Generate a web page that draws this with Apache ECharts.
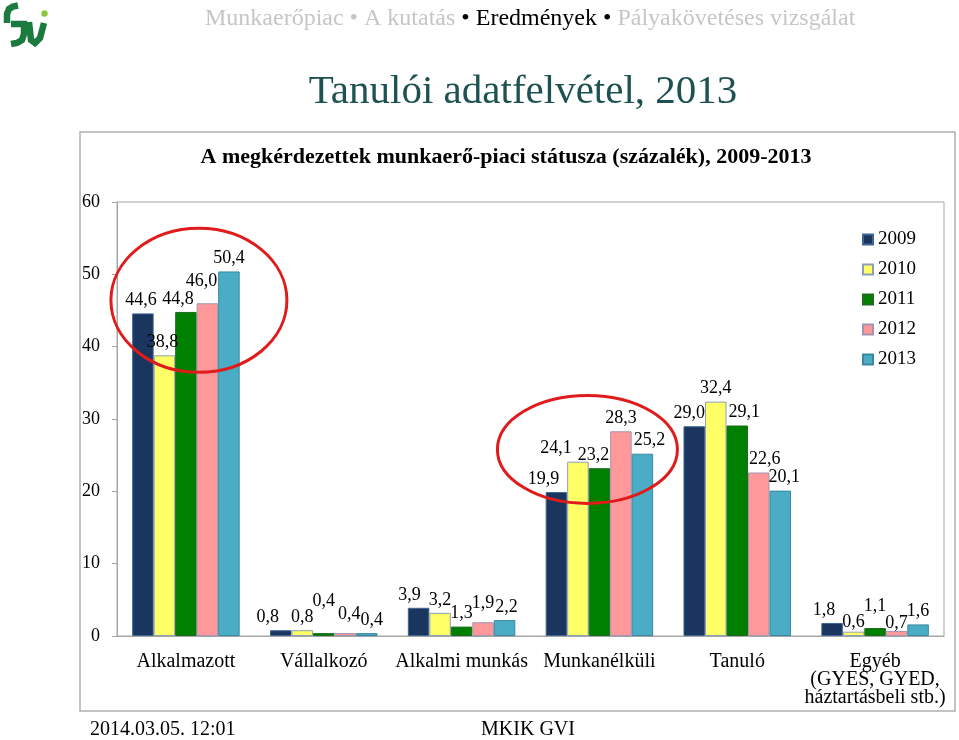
<!DOCTYPE html>
<html><head><meta charset="utf-8">
<script src="https://cdn.jsdelivr.net/npm/echarts@6/dist/echarts.min.js"></script>
<style>html,body{margin:0;padding:0;background:#fff}#c{width:959px;height:740px}</style>
</head><body><div id="c"></div>
<script>
// ---- data ----
const categories = ['Alkalmazott', 'Vállalkozó', 'Alkalmi munkás', 'Munkanélküli', 'Tanuló', 'Egyéb\n(GYES, GYED,\nháztartásbeli stb.)'];
const years = ['2009', '2010', '2011', '2012', '2013'];
const v2009 = [44.6, 0.8, 3.9, 19.9, 29.0, 1.8];
const v2010 = [38.8, 0.8, 3.2, 24.1, 32.4, 0.6];
const v2011 = [44.8, 0.4, 1.3, 23.2, 29.1, 1.1];
const v2012 = [46.0, 0.4, 1.9, 28.3, 22.6, 0.7];
const v2013 = [50.4, 0.4, 2.2, 25.2, 20.1, 1.6];
const yMin = 0, yMax = 60, yStep = 10;

// ---- style ----
const FONT = "'Liberation Serif', 'Times New Roman', serif";
const fills = ['#1B365E', '#FFFF66', '#008000', '#FF9999', '#4BACC6'];
const borders = ['#3F6593', '#8C9FB8', '#1F6B1F', '#A393B0', '#3A88A0'];
// label nudges [dx, dy] per series, per category (Excel hand-placed labels)
const nudges = [
  [[-2,0],[-13,0],[-9,0],[-13,0],[-5,0],[-8,0]],
  [[-2,0],[0,0],[0,0],[-22,0],[0,0],[0,4]],
  [[-8,0],[0,-19],[0,0],[-6,0],[7,0],[0,-9]],
  [[-6,-9],[4,-6],[0,-6],[0,0],[6,0],[0,5]],
  [[0,0],[5,0],[2,0],[7,0],[4,0],[0,0]]
];
const seriesValues = [v2009, v2010, v2011, v2012, v2013];
const fmt = v => v.toFixed(1).replace('.', ',');

const chart = echarts.init(document.getElementById('c'), null, {renderer: 'canvas'});

const series = years.map((y, si) => ({
  name: y,
  type: 'bar',
  barGap: '0%',
  barCategoryGap: '22%',
  itemStyle: {color: fills[si], borderColor: borders[si], borderWidth: 1},
  label: {
    show: true, position: 'top', distance: 4,
    fontFamily: FONT, fontSize: 18, color: '#000',
    formatter: p => fmt(p.value)
  },
  data: seriesValues[si].map((v, ci) => ({value: v, label: {offset: nudges[si][ci]}}))
}));

chart.setOption({
  backgroundColor: '#fff',
  animation: false,
  textStyle: {fontFamily: FONT},
  grid: {left: 117, top: 202, right: 15, bottom: 104, show: true, borderColor: '#a6a6a6', borderWidth: 1, backgroundColor: 'transparent'},
  legend: {
    orient: 'vertical', left: 857, top: 225,
    itemWidth: 10, itemHeight: 10, itemGap: 11,
    icon: 'rect',
    textStyle: {fontFamily: FONT, fontSize: 19, color: '#000'},
    data: years
  },
  xAxis: {
    type: 'category', data: categories,
    axisLine: {lineStyle: {color: '#a6a6a6'}},
    axisTick: {show: false},
    axisLabel: {fontFamily: FONT, fontSize: 20, color: '#000', margin: 17, lineHeight: 18, interval: 0}
  },
  yAxis: {
    type: 'value', min: yMin, max: yMax, interval: yStep,
    splitLine: {show: false},
    axisLine: {show: true, lineStyle: {color: '#a6a6a6'}},
    axisTick: {show: true, length: 5, lineStyle: {color: '#a6a6a6'}},
    axisLabel: {fontFamily: FONT, fontSize: 18, color: '#000', margin: 17}
  },
  series: series
});

// annotations: red ellipses anchored to data coordinates
function ellipseAt(cat, val, dx, rx, ry) {
  const p = chart.convertToPixel({gridIndex: 0}, [cat, val]);
  return {
    type: 'ellipse', silent: true, z: 100,
    shape: {cx: p[0] + dx, cy: p[1], rx: rx, ry: ry},
    style: {fill: null, stroke: '#E01B1B', lineWidth: 3}
  };
}

const G = '#1B7A3E';
const graphics = [
  // outer chart frame
  {type: 'rect', z: -1, shape: {x: 80, y: 132, width: 875, height: 579}, style: {fill: null, stroke: '#b0b0b0', lineWidth: 1.5}},
  // logo
  {type: 'polyline', shape: {points: [[7,23],[7,14],[9,9],[13,6.5],[18,5.5]]}, style: {fill: null, stroke: G, lineWidth: 6.5}},
  {type: 'polyline', shape: {points: [[11,24],[24,24],[24,34],[22,40],[17,43],[11,44]]}, style: {fill: null, stroke: G, lineWidth: 6.5}},
  {type: 'polyline', shape: {points: [[29,22],[31,40],[35,43],[40,38],[44,23]]}, style: {fill: null, stroke: G, lineWidth: 6.5}},
  {type: 'circle', shape: {cx: 44.5, cy: 13.5, r: 3.2}, style: {fill: '#8DC63F'}},
  // header navigation
  {type: 'text', left: 205, top: 7, style: {
    text: '{g|Munkaerőpiac • A kutatás }{b|• Eredmények •}{g| Pályakövetéses vizsgálat}',
    rich: {
      g: {fontFamily: FONT, fontSize: 24, fill: '#C6C6C6'},
      b: {fontFamily: FONT, fontSize: 24, fill: '#000'}
    }
  }},
  // title
  {type: 'text', x: 523, y: 92, style: {text: 'Tanulói adatfelvétel, 2013', fontFamily: FONT, fontSize: 41, fill: '#1E5252', align: 'center', verticalAlign: 'middle'}},
  // subtitle
  {type: 'text', x: 506, y: 158, scaleX: 1.1, style: {text: 'A megkérdezettek munkaerő-piaci státusza (százalék), 2009-2013', fontFamily: FONT, fontSize: 20, fontWeight: 'bold', fill: '#000', align: 'center', verticalAlign: 'middle'}},
  // footer
  {type: 'text', x: 90, y: 730, style: {text: '2014.03.05. 12:01', fontFamily: FONT, fontSize: 20, fill: '#000', align: 'left', verticalAlign: 'middle'}},
  {type: 'text', x: 528, y: 730, style: {text: 'MKIK GVI', fontFamily: FONT, fontSize: 20, fill: '#000', align: 'center', verticalAlign: 'middle'}},
  ellipseAt(0, 46.4, 13, 88, 72),
  ellipseAt(3, 25.8, -12, 90, 54)
];
chart.setOption({graphic: graphics});
</script>
</body></html>
